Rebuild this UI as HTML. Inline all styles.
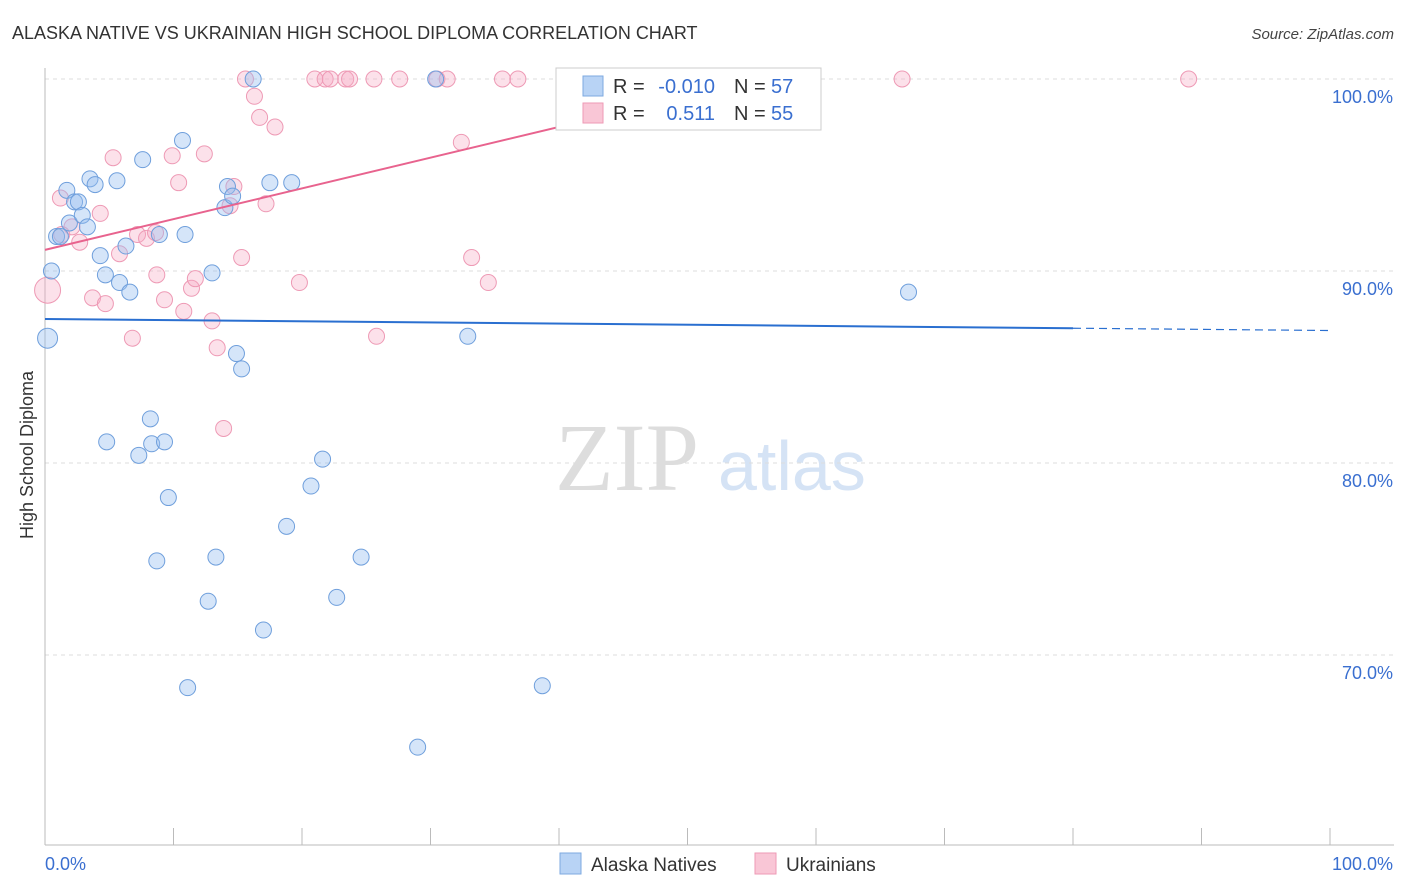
<!DOCTYPE html>
<html><head><meta charset="utf-8"><style>
body{margin:0;background:#fff;font-family:"Liberation Sans",sans-serif}
svg{display:block}
</style></head><body>
<svg id="c" width="1406" height="892" xmlns="http://www.w3.org/2000/svg">
<text x="12" y="39" font-size="18" fill="#333" font-family="Liberation Sans">ALASKA NATIVE VS UKRAINIAN HIGH SCHOOL DIPLOMA CORRELATION CHART</text>
<text x="1394" y="39" font-size="15" fill="#444" font-style="italic" text-anchor="end">Source: ZipAtlas.com</text>
<text transform="translate(33,455) rotate(-90)" font-size="18" fill="#333" text-anchor="middle">High School Diploma</text>
<text x="555" y="490" font-size="96" fill="#ddd" font-family="Liberation Serif">ZIP</text>
<text x="718" y="490" font-size="70" fill="#d5e3f5">atlas</text>
<g id="grid"></g><g id="axes"></g><g id="pts"></g><g id="trend"></g>
<g>
<rect x="556" y="68" width="265" height="62" fill="#fff" stroke="#ccc"/>
<rect x="583" y="76" width="20" height="20" fill="#b8d3f5" stroke="#7ea9e0"/>
<rect x="583" y="103" width="20" height="20" fill="#f9c6d6" stroke="#ee9ab5"/>
<text x="613" y="93" font-size="20" fill="#333">R =</text>
<text x="715" y="93" font-size="20" fill="#3a6fd0" text-anchor="end">-0.010</text>
<text x="734" y="93" font-size="20" fill="#333">N =</text>
<text x="771" y="93" font-size="20" fill="#3a6fd0">57</text>
<text x="613" y="120" font-size="20" fill="#333">R =</text>
<text x="715" y="120" font-size="20" fill="#3a6fd0" text-anchor="end">0.511</text>
<text x="734" y="120" font-size="20" fill="#333">N =</text>
<text x="771" y="120" font-size="20" fill="#3a6fd0">55</text>
</g>
<g>
<rect x="560" y="853" width="21" height="21" fill="#b8d3f5" stroke="#7ea9e0"/>
<text x="591" y="871" font-size="19" fill="#333">Alaska Natives</text>
<rect x="755" y="853" width="21" height="21" fill="#f9c6d6" stroke="#ee9ab5"/>
<text x="786" y="871" font-size="19" fill="#333">Ukrainians</text>
</g>
</svg>
<script>
const blueX=[0.2,0.5,0.9,1.2,1.7,1.9,2.3,2.6,2.9,3.3,3.5,3.9,4.3,4.7,4.8,5.6,5.8,6.3,6.6,7.3,7.6,8.2,8.3,8.9,9.3,9.6,8.7,10.7,10.9,11.1,12.7,13.0,13.3,14.0,14.2,14.6,14.9,15.3,16.2,17.0,17.5,18.8,19.2,20.7,21.6,22.7,24.6,29.0,30.4,32.9,38.7,41.4,44.3,46.0,67.2];
const blueY=[86.5,90.0,91.8,91.8,94.2,92.5,93.6,93.6,92.9,92.3,94.8,94.5,90.8,89.8,81.1,94.7,89.4,91.3,88.9,80.4,95.8,82.3,81.0,91.9,81.1,78.2,74.9,96.8,91.9,68.3,72.8,89.9,75.1,93.3,94.4,93.9,85.7,84.9,100,71.3,94.6,76.7,94.6,78.8,80.2,73.0,75.1,65.2,100,86.6,68.4,100,100,100,88.9];
const pinkX=[0.2,1.2,1.3,2.1,2.7,3.7,4.3,4.7,5.3,5.8,6.8,7.2,7.9,8.6,8.7,9.3,9.9,10.4,10.8,11.4,11.7,12.4,13.0,13.4,13.9,14.4,14.7,15.3,15.6,16.3,16.7,17.2,17.9,19.8,21.0,21.8,22.2,23.4,23.7,25.6,25.8,27.6,30.5,31.3,32.4,33.2,34.5,35.6,36.8,47.5,66.7,89.0];
const pinkY=[89.0,93.8,91.9,92.3,91.5,88.6,93.0,88.3,95.9,90.9,86.5,91.9,91.7,92.0,89.8,88.5,96.0,94.6,87.9,89.1,89.6,96.1,87.4,86.0,81.8,93.4,94.4,90.7,100,99.1,98.0,93.5,97.5,89.4,100,100,100,100,100,100,86.6,100,100,100,96.7,90.7,89.4,100,100,100,100,100];
const yTicks=[100,90,80,70];
const yLabels=["100.0%","90.0%","80.0%","70.0%"];
const blueTrend=[87.5,86.9];
const pinkTrend=[91.1,100];
const X=v=>45+v*12.85, Y=v=>79+(100-v)*19.2;
const NS="http://www.w3.org/2000/svg";
function mk(t,a,p){const e=document.createElementNS(NS,t);for(const k in a)e.setAttribute(k,a[k]);p.appendChild(e);return e;}
const g=document.getElementById('grid'),ax=document.getElementById('axes'),pts=document.getElementById('pts'),tr=document.getElementById('trend');
yTicks.forEach((t,i)=>{const l=mk('line',{x1:45,x2:1394,y1:Y(t),y2:Y(t),stroke:'#ddd','stroke-dasharray':'4,4'},g);


const tx=mk('text',{x:1393,y:Y(t)+24,'font-size':18,fill:'#3a6fd0','text-anchor':'end'},g);tx.textContent=yLabels[i];

});
const xa=mk('line',{x1:45,x2:1394,y1:845,y2:845,stroke:'#bbb'},ax);


const ya=mk('line',{x1:45,x2:45,y1:68,y2:845,stroke:'#bbb'},ax);


for(let i=0;i<=10;i++){const t=mk('line',{x1:X(i*10),x2:X(i*10),y1:828,y2:845,stroke:'#bbb'},ax);

}
[["0.0%",45,"start"],["100.0%",1393,"end"]].forEach(d=>{const t=mk('text',{x:d[1],y:870,'font-size':18,fill:'#3a6fd0','text-anchor':d[2]},ax);t.textContent=d[0];

});
pinkX.forEach((x,i)=>{const c=mk('circle',{cx:X(x),cy:Y(pinkY[i]),r:i==0?13:8,fill:'rgba(247,170,195,0.35)',stroke:'#ee9ab5','stroke-width':1},pts);

});
blueX.forEach((x,i)=>{const c=mk('circle',{cx:X(x),cy:Y(blueY[i]),r:i==0?10:8,fill:'rgba(150,190,240,0.4)',stroke:'#6f9fdc','stroke-width':1},pts);

});
const by=x=>blueTrend[0]+(blueTrend[1]-blueTrend[0])*x/100;
const b1=mk('line',{x1:X(0),y1:Y(by(0)),x2:X(80),y2:Y(by(80)),stroke:'#2a6fd0','stroke-width':2},tr);


const b2=mk('line',{x1:X(80),y1:Y(by(80)),x2:X(100),y2:Y(by(100)),stroke:'#2a6fd0','stroke-width':1.2,'stroke-dasharray':'8,5'},tr);


const p=mk('line',{x1:X(0),y1:Y(pinkTrend[0]),x2:X(55.6),y2:Y(pinkTrend[1]),stroke:'#e8638e','stroke-width':2},tr);


</script>
</body></html>
